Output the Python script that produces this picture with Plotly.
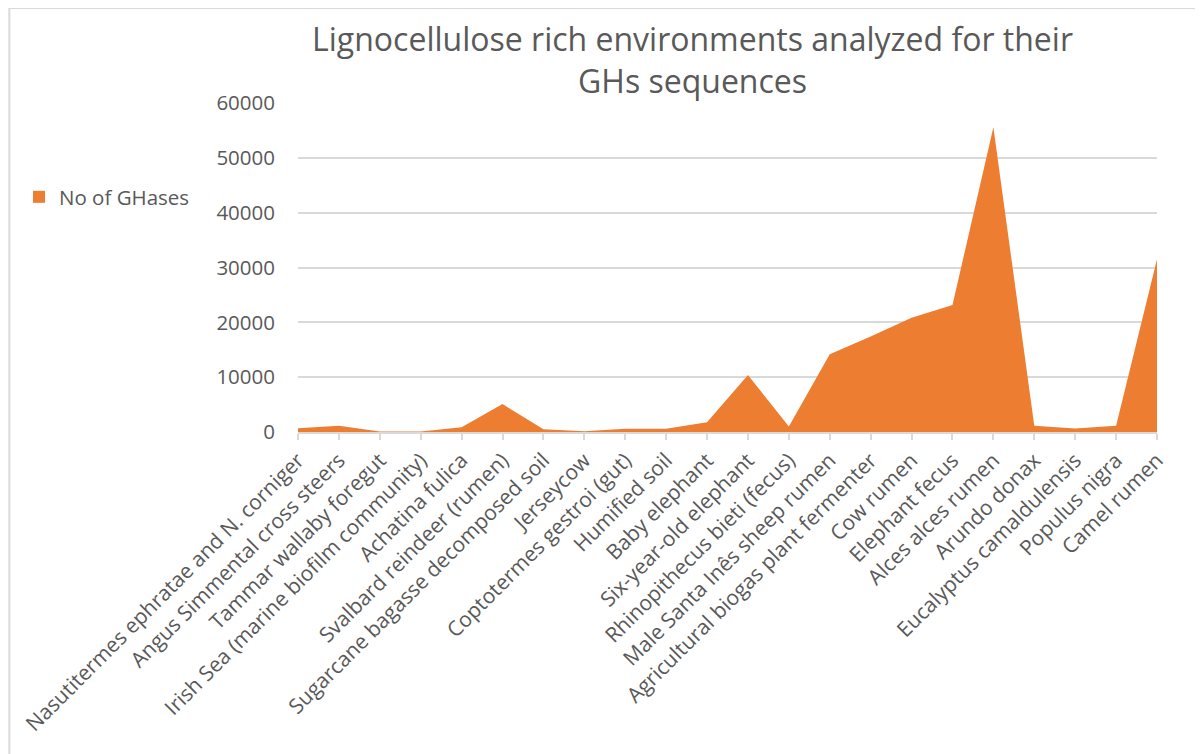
import plotly.graph_objects as go

categories = [
    "Nasutitermes ephratae and N. corniger",
    "Angus Simmental cross steers",
    "Tammar wallaby foregut",
    "Irish Sea (marine biofilm community)",
    "Achatina fulica",
    "Svalbard reindeer (rumen)",
    "Sugarcane bagasse decomposed soil",
    "Jerseycow",
    "Coptotermes gestroi (gut)",
    "Humified soil",
    "Baby elephant",
    "Six-year-old elephant",
    "Rhinopithecus bieti (fecus)",
    "Male Santa Inês sheep rumen",
    "Agricultural biogas plant fermenter",
    "Cow rumen",
    "Elephant fecus",
    "Alces alces rumen",
    "Arundo donax",
    "Eucalyptus camaldulensis",
    "Populus nigra",
    "Camel rumen",
]
ghases = [700, 1150, 100, 100, 850, 5100, 500, 150, 600, 600, 1800, 10400,
          1000, 14200, 17400, 20850, 23150, 55600, 1150, 650, 1150, 31500]
y_ticks = [0, 10000, 20000, 30000, 40000, 50000, 60000]

W, H = 1203, 754
OFF = 8  # page offset of the figure div
L, R, T, B = 297 - OFF, 1157 - OFF, 103 - OFF, 432 - OFF

def px(x):
    return (x - OFF - L) / (R - L)

def py(y):
    return (B - (y - OFF)) / (B - T)

ORANGE = "#ED7D31"

fig = go.Figure()
fig.add_trace(go.Scatter(
    x=list(range(len(categories))), y=ghases, mode="lines",
    fill="tozeroy", fillcolor=ORANGE,
    line=dict(width=0, color=ORANGE),
    name="No of GHases", showlegend=False,
))
fig.add_trace(go.Scatter(
    x=[None], y=[None], mode="markers",
    marker=dict(symbol="square", size=12, color=ORANGE),
    name="No of GHases", showlegend=True,
))

fig.update_layout(
    width=W, height=H,
    margin=dict(l=L, r=W - R, t=T, b=H - B),
    paper_bgcolor="white", plot_bgcolor="white",
    font=dict(family="Open Sans", color="#595959"),
    title=dict(
        text="Lignocellulose rich environments analyzed for their<br>GHs sequences",
        x=px(692), xref="paper", xanchor="center",
        y=1 - 43 / H, yref="container", yanchor="middle",
        font=dict(size=32, color="#595959", family="Open Sans"),
    ),
    showlegend=True,
    legend=dict(
        x=px(19), y=py(197), xref="paper", yref="paper",
        xanchor="left", yanchor="middle",
        font=dict(size=20.5, color="#595959"),
        bgcolor="rgba(0,0,0,0)", itemwidth=30,
    ),
    xaxis=dict(
        range=[0, len(categories) - 1],
        tickmode="array", tickvals=list(range(len(categories))), ticktext=categories,
        tickangle=-45, tickfont=dict(size=21, color="#595959"),
        showgrid=False, zeroline=False,
        showline=True, linecolor="#d9d9d9", linewidth=1.5,
        ticks="outside", ticklen=6, tickcolor="#d9d9d9", tickwidth=1.5,
    ),
    yaxis=dict(
        range=[0, 60000], tickvals=y_ticks, ticktext=[str(v) for v in y_ticks],
        tickfont=dict(size=20.5, color="#595959"),
        showgrid=True, gridcolor="#d9d9d9", gridwidth=1.5,
        zeroline=False, showline=False, ticks="", ticklabelstandoff=22,
    ),
    shapes=[
        dict(type="line", xref="paper", yref="paper",
             x0=px(8), x1=px(1211), y0=py(8), y1=py(8),
             line=dict(color="#d9d9d9", width=2)),
        dict(type="line", xref="paper", yref="paper",
             x0=px(8), x1=px(8), y0=py(8), y1=py(762),
             line=dict(color="#d9d9d9", width=2)),
    ],
)

fig.write_html("out.html")
